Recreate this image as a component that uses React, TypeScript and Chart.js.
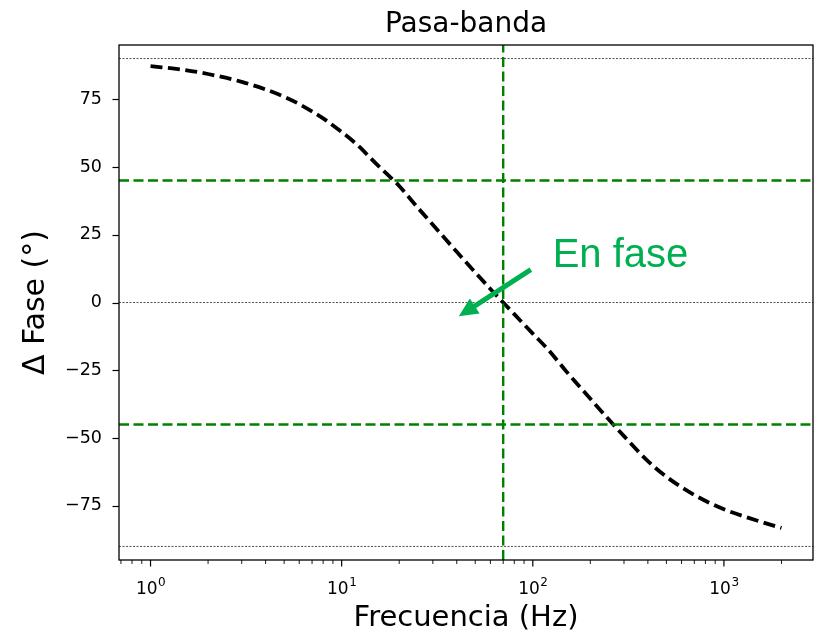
import React, { useEffect, useRef } from "react";
import { Chart, registerables } from "chart.js";

Chart.register(...registerables);

// ---- data ----
const frequencies = [1, 1.5, 2, 3, 4, 5, 6, 8, 10, 12, 15, 18, 20, 25, 30, 35, 40, 50, 60, 70, 80, 100, 120, 150, 200, 250, 300, 400, 500, 700, 1000, 1500, 2000];
const phaseDeg = [87.2, 85.8, 84.3, 81.4, 78.6, 75.9, 73.2, 67.9, 62.9, 58.3, 51.5, 46.2, 43.0, 35.0, 28.7, 23.3, 18.7, 11.1, 5.0, 0, -4.3, -11.5, -17.3, -25.5, -35.5, -43.2, -49.3, -58.5, -64.3, -71.0, -76.3, -80.5, -83.2];

const xAxisMin = 0.684;
const xAxisMax = 2924;
const yAxisMin = -95;
const yAxisMax = 95;

const dottedLevels = [90, 0, -90];
const greenLevels = [45, -45];
const inPhaseFreq = 70;

const xTickValues = [0.7, 0.8, 0.9, 1, 2, 3, 4, 5, 6, 7, 8, 9, 10, 20, 30, 40, 50, 60, 70, 80, 90, 100, 200, 300, 400, 500, 600, 700, 800, 900, 1000, 2000];
const xMajorTicks = [1, 10, 100, 1000];
const xMajorBase = ["10", "10", "10", "10"];
const xMajorExponent = ["0", "1", "2", "3"];
const yTickValues = [-75, -50, -25, 0, 25, 50, 75];

const noteText = "En fase";
const notePos = [127, 13];
const arrowFrom = [97.6, 12.1];
const arrowTo = [41, -5.1];

const FONT = "'DejaVu Sans', sans-serif";

const decorPlugin = {
  id: "decor",
  afterDraw(chart: any) {
    const { ctx, chartArea: a, scales } = chart;
    const x = scales.x;
    const y = scales.y;
    ctx.save();
    ctx.strokeStyle = "#000";
    ctx.lineWidth = 1.2;
    ctx.setLineDash([]);
    // y ticks
    y.ticks.forEach((t: any) => {
      const py = Math.round(y.getPixelForValue(t.value)) + 0.5;
      ctx.beginPath();
      ctx.moveTo(a.left - 6.5, py);
      ctx.lineTo(a.left, py);
      ctx.stroke();
    });
    // x ticks
    x.ticks.forEach((t: any) => {
      const px = x.getPixelForValue(t.value);
      const major = xMajorTicks.includes(t.value);
      ctx.lineWidth = major ? 1.2 : 0.9;
      ctx.beginPath();
      ctx.moveTo(px, a.bottom);
      ctx.lineTo(px, a.bottom + (major ? 6.5 : 4));
      ctx.stroke();
    });
    // x major labels with superscript exponent
    ctx.fillStyle = "#000";
    ctx.textBaseline = "alphabetic";
    ctx.textAlign = "left";
    xMajorTicks.forEach((v, i) => {
      const px = x.getPixelForValue(v);
      ctx.font = `17px ${FONT}`;
      const wb = ctx.measureText(xMajorBase[i]).width;
      ctx.font = `12px ${FONT}`;
      const we = ctx.measureText(xMajorExponent[i]).width;
      const left = px - (wb + we) / 2;
      ctx.font = `17px ${FONT}`;
      ctx.fillText(xMajorBase[i], left, a.bottom + 34);
      ctx.font = `12px ${FONT}`;
      ctx.fillText(xMajorExponent[i], left + wb + 0.5, a.bottom + 26);
    });
    // frame
    ctx.lineWidth = 1.3;
    ctx.strokeRect(a.left, a.top, a.right - a.left, a.bottom - a.top);

    // annotation arrow
    const green = "#00B050";
    const sx = x.getPixelForValue(arrowFrom[0]);
    const sy = y.getPixelForValue(arrowFrom[1]);
    const tx = x.getPixelForValue(arrowTo[0]);
    const ty = y.getPixelForValue(arrowTo[1]);
    const ang = Math.atan2(ty - sy, tx - sx);
    const headLen = 19;
    const headW = 9;
    const bx = tx - headLen * Math.cos(ang);
    const by = ty - headLen * Math.sin(ang);
    ctx.strokeStyle = green;
    ctx.fillStyle = green;
    ctx.lineWidth = 5;
    ctx.lineCap = "butt";
    ctx.beginPath();
    ctx.moveTo(sx, sy);
    ctx.lineTo(bx + 2 * Math.cos(ang), by + 2 * Math.sin(ang));
    ctx.stroke();
    ctx.beginPath();
    ctx.moveTo(tx, ty);
    ctx.lineTo(bx + headW * Math.sin(ang), by - headW * Math.cos(ang));
    ctx.lineTo(bx - headW * Math.sin(ang), by + headW * Math.cos(ang));
    ctx.closePath();
    ctx.fill();

    // annotation text
    ctx.font = "40px 'Liberation Sans', Arial, sans-serif";
    ctx.textAlign = "left";
    ctx.textBaseline = "alphabetic";
    ctx.fillText(noteText, x.getPixelForValue(notePos[0]), y.getPixelForValue(notePos[1]));
    ctx.restore();
  },
};

export default function App() {
  const canvasRef = useRef<HTMLCanvasElement | null>(null);

  useEffect(() => {
    if (!canvasRef.current) return;
    const curve = frequencies.map((f, i) => ({ x: f, y: phaseDeg[i] }));
    const datasets: any[] = [];

    greenLevels.forEach((lvl) => {
      datasets.push({
        data: [
          { x: xAxisMin, y: lvl },
          { x: xAxisMax, y: lvl },
        ],
        borderColor: "#008000",
        borderWidth: 2.4,
        borderDash: [10, 4.5],
        pointRadius: 0,
        showLine: true,
        order: 1,
      });
    });
    datasets.push({
      data: [
        { x: inPhaseFreq, y: yAxisMin },
        { x: inPhaseFreq, y: yAxisMax },
      ],
      borderColor: "#008000",
      borderWidth: 2.4,
      borderDash: [10, 4.5],
      pointRadius: 0,
      showLine: true,
      order: 1,
    });
    datasets.push({
      data: curve,
      borderColor: "#000",
      borderWidth: 3.8,
      borderDash: [12, 5.5],
      pointRadius: 0,
      showLine: true,
      cubicInterpolationMode: "monotone",
      order: 2,
    });
    dottedLevels.forEach((lvl) => {
      datasets.push({
        data: [
          { x: xAxisMin, y: lvl },
          { x: xAxisMax, y: lvl },
        ],
        borderColor: "#222",
        borderWidth: 0.8,
        borderDash: [2, 1.5],
        pointRadius: 0,
        showLine: true,
        order: 3,
      });
    });

    const chart = new Chart(canvasRef.current, {
      type: "scatter",
      data: { datasets },
      options: {
        animation: false,
        responsive: false,
        devicePixelRatio: 1,
        layout: { padding: { left: 0, right: 10, top: 0, bottom: 0 } },
        plugins: {
          legend: { display: false },
          tooltip: { enabled: false },
          title: {
            display: true,
            text: "Pasa-banda",
            fullSize: false,
            color: "#000",
            font: { family: FONT, size: 28, weight: "normal", lineHeight: 1 },
            padding: { top: 11, bottom: 6 },
          },
        },
        scales: {
          x: {
            type: "logarithmic",
            min: xAxisMin,
            max: xAxisMax,
            afterBuildTicks: (s: any) => {
              s.ticks = xTickValues.map((v) => ({ value: v }));
            },
            afterFit: (s: any) => {
              s.height = 73;
            },
            grid: { display: false, drawTicks: false },
            border: { display: false },
            ticks: {
              autoSkip: false,
              maxRotation: 0,
              minRotation: 0,
              padding: 17,
              color: "#000",
              font: { family: FONT, size: 17 },
              callback: () => "",
            },
            title: {
              display: true,
              text: "Frecuencia (Hz)",
              color: "#000",
              font: { family: FONT, size: 29, lineHeight: 1 },
              padding: { top: 0, bottom: 0.5 },
            },
          },
          y: {
            type: "linear",
            min: yAxisMin,
            max: yAxisMax,
            afterBuildTicks: (s: any) => {
              s.ticks = yTickValues.map((v) => ({ value: v }));
            },
            afterFit: (s: any) => {
              s.width = 119;
            },
            grid: { display: false, drawTicks: false },
            border: { display: false },
            ticks: {
              padding: 17,
              color: "#000",
              font: { family: FONT, size: 17.5 },
              callback: (v: any) => {
                const n = Number(v);
                return n < 0 ? "\u2212" + String(Math.abs(n)) : String(n);
              },
            },
            title: {
              display: true,
              text: "\u0394 Fase (\u00b0)",
              color: "#000",
              font: { family: FONT, size: 30, lineHeight: 1 },
              padding: { top: 21, bottom: 0 },
            },
          },
        },
      } as any,
      plugins: [decorPlugin],
    });
    return () => chart.destroy();
  }, []);

  return (
    <div style={{ position: "absolute", left: 0, top: 0, width: 823, height: 633, background: "#fff" }}>
      <canvas ref={canvasRef} width={823} height={633} style={{ display: "block" }} />
    </div>
  );
}
